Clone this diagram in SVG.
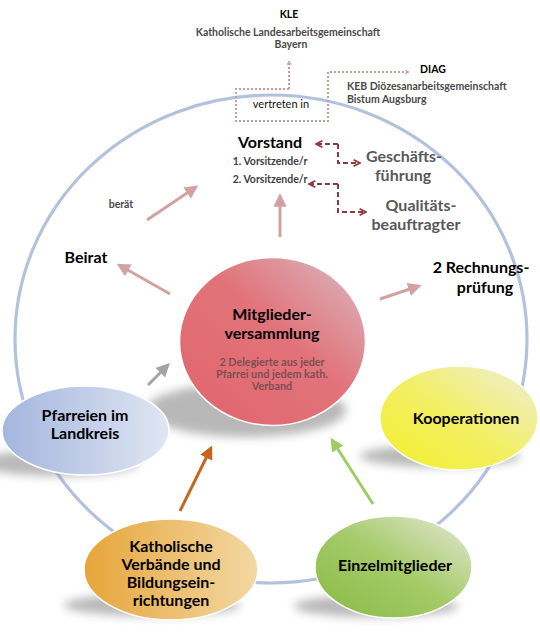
<svg xmlns="http://www.w3.org/2000/svg" width="540" height="632" viewBox="0 0 540 632">
<style>
text{font-family:Lato,"Liberation Sans",sans-serif;text-anchor:middle}
.b{font-weight:bold}
.lbl{font-weight:bold;font-size:16px;fill:#000}
.gr{font-weight:bold;font-size:16px;fill:#595959}
.sm{font-weight:bold;font-size:10.5px;fill:#4a4a4a}
.sub{font-weight:bold;font-size:10.8px;fill:#7e4e55}
.pink{stroke:#d2a2a2;stroke-width:3;fill:none}
.dot{stroke:#c99a9c;stroke-width:2;stroke-dasharray:2 2;fill:none}
.dash{stroke:#8e3a3c;stroke-width:2;stroke-dasharray:5 3;fill:none}
.shadow{fill:#8a8a8a;opacity:0.6;filter:url(#blur)}
</style>
<defs>
<filter id="blur" x="-30%" y="-100%" width="160%" height="300%"><feGaussianBlur stdDeviation="5"/></filter>
<linearGradient id="gRed" x1="0" y1="1" x2="1" y2="0"><stop offset="0" stop-color="#e0656b"/><stop offset="0.55" stop-color="#e2737a"/><stop offset="1" stop-color="#dabcc4"/></linearGradient>
<linearGradient id="gBlue" x1="0" y1="0.5" x2="1" y2="0.5"><stop offset="0" stop-color="#a3b6de"/><stop offset="1" stop-color="#e0e6f3"/></linearGradient>
<linearGradient id="gYel" x1="0" y1="1" x2="1" y2="0"><stop offset="0" stop-color="#f4ef2a"/><stop offset="0.5" stop-color="#f2ef66"/><stop offset="1" stop-color="#efeedc"/></linearGradient>
<linearGradient id="gOra" x1="0" y1="0.5" x2="1" y2="0.5"><stop offset="0" stop-color="#e6a53a"/><stop offset="1" stop-color="#f3d8a4"/></linearGradient>
<linearGradient id="gGrn" x1="0" y1="1" x2="1" y2="0"><stop offset="0" stop-color="#88bb44"/><stop offset="0.5" stop-color="#a4cb68"/><stop offset="1" stop-color="#e8e8da"/></linearGradient>
<marker id="aPink" viewBox="0 0 10 10" refX="8" refY="5" markerWidth="4.5" markerHeight="4.5" orient="auto"><path d="M0,0 L10,5 L0,10 z" fill="#d2a2a2"/></marker>
<marker id="aGray" viewBox="0 0 10 10" refX="8" refY="5" markerWidth="4.5" markerHeight="4.5" orient="auto"><path d="M0,0 L10,5 L0,10 z" fill="#a4a4a4"/></marker>
<marker id="aOra" viewBox="0 0 10 10" refX="8" refY="5" markerWidth="4.5" markerHeight="4.5" orient="auto"><path d="M0,0 L10,5 L0,10 z" fill="#c5661f"/></marker>
<marker id="aGrn" viewBox="0 0 10 10" refX="8" refY="5" markerWidth="4.5" markerHeight="4.5" orient="auto"><path d="M0,0 L10,5 L0,10 z" fill="#a0cc66"/></marker>
<marker id="aDot" viewBox="0 0 10 10" refX="9" refY="5" markerWidth="5" markerHeight="5" orient="auto" markerUnits="userSpaceOnUse"><path d="M1,1 L9,5 L1,9" fill="none" stroke="#c99a9c" stroke-width="2"/></marker>
<marker id="aDash" viewBox="0 0 10 10" refX="9" refY="5" markerWidth="8" markerHeight="8" orient="auto" markerUnits="userSpaceOnUse"><path d="M1,1 L9,5 L1,9" fill="none" stroke="#8e3a3c" stroke-width="2.2"/></marker>
</defs>
<rect width="540" height="632" fill="#fff"/>

<ellipse id="ring" cx="271" cy="339" rx="256" ry="244" fill="none" stroke="#b3c2dc" stroke-width="3.2"/>

<g id="shadows">
<ellipse class="shadow" cx="246" cy="410" rx="100" ry="27"/>
<ellipse class="shadow" cx="58" cy="463" rx="80" ry="13"/>
<ellipse class="shadow" cx="440" cy="456" rx="80" ry="11"/>
<ellipse class="shadow" cx="152" cy="605" rx="88" ry="11"/>
<ellipse class="shadow" cx="376" cy="606" rx="82" ry="11"/>
</g>

<g id="connectors">
<line class="pink" x1="280" y1="237" x2="280" y2="196" marker-end="url(#aPink)"/>
<line class="pink" x1="147" y1="220" x2="196" y2="187" marker-end="url(#aPink)"/>
<line class="pink" x1="170" y1="294" x2="119" y2="265" marker-end="url(#aPink)"/>
<line class="pink" x1="380" y1="299" x2="419" y2="286" marker-end="url(#aPink)"/>
<line x1="148" y1="385" x2="168" y2="365" stroke="#a4a4a4" stroke-width="3" marker-end="url(#aGray)"/>
<line x1="180" y1="511" x2="211" y2="448" stroke="#c5661f" stroke-width="3" marker-end="url(#aOra)"/>
<line x1="373" y1="504" x2="332" y2="440" stroke="#a0cc66" stroke-width="3" marker-end="url(#aGrn)"/>
<path class="dot" d="M289,89 L289,61" marker-end="url(#aDot)"/>
<path class="dot" d="M289,89 L236,89 L236,121 L328,121 L328,72 L409,72" marker-end="url(#aDot)"/>
<path class="dash" d="M338,144 L316,144" marker-end="url(#aDash)"/>
<path class="dash" d="M338,144 L338,163 L360,163" marker-end="url(#aDash)"/>
<path class="dash" d="M338,184 L309,184" marker-end="url(#aDash)"/>
<path class="dash" d="M338,184 L338,212 L366,212" marker-end="url(#aDash)"/>
</g>

<g id="mitglieder">
<ellipse cx="272.5" cy="341.5" rx="93" ry="84" fill="url(#gRed)" stroke="#fff" stroke-width="1.5"/>
<text class="lbl" x="272" y="320" font-size="17">Mitglieder-</text>
<text class="lbl" x="272" y="339" font-size="17">versammlung</text>
<text class="sub" x="272" y="366">2 Delegierte aus jeder</text>
<text class="sub" x="272" y="378">Pfarrei und jedem kath.</text>
<text class="sub" x="272" y="390">Verband</text>
</g>

<g id="pfarreien">
<ellipse cx="85.5" cy="430.5" rx="83.5" ry="44.5" fill="url(#gBlue)" stroke="#fff" stroke-width="1.5"/>
<text class="lbl" x="85" y="421">Pfarreien im</text>
<text class="lbl" x="85" y="439">Landkreis</text>
</g>

<g id="kooperationen">
<ellipse cx="459" cy="418" rx="79" ry="52" fill="url(#gYel)" stroke="#fff" stroke-width="1.5"/>
<text class="lbl" x="466" y="424">Kooperationen</text>
</g>

<g id="verbaende">
<ellipse cx="171" cy="569.5" rx="87" ry="50.5" fill="url(#gOra)" stroke="#fff" stroke-width="1.5"/>
<text class="lbl" x="171" y="552">Katholische</text>
<text class="lbl" x="171" y="570">Verbände und</text>
<text class="lbl" x="171" y="588">Bildungsein-</text>
<text class="lbl" x="171" y="606">richtungen</text>
</g>

<g id="einzel">
<ellipse cx="393.5" cy="567" rx="78.5" ry="51" fill="url(#gGrn)" stroke="#fff" stroke-width="1.5"/>
<text class="lbl" x="395" y="571">Einzelmitglieder</text>
</g>

<g id="vorstand">
<text class="lbl" x="270" y="148">Vorstand</text>
<text class="b" x="270" y="165" font-size="10.5" fill="#404040">1. Vorsitzende/r</text>
<text class="b" x="270" y="183" font-size="10.5" fill="#404040">2. Vorsitzende/r</text>
</g>

<g id="beirat">
<text class="lbl" x="86" y="263">Beirat</text>
</g>
<g id="beraet"><text class="sm" x="121" y="208">berät</text></g>

<g id="rechnung">
<text class="lbl" x="481" y="273" font-size="17">2 Rechnungs-</text>
<text class="lbl" x="485" y="293" font-size="17">prüfung</text>
</g>

<g id="geschaeft">
<text class="gr" x="404" y="162">Geschäfts-</text>
<text class="gr" x="403" y="181">führung</text>
</g>
<g id="qualitaet">
<text class="gr" x="421" y="211">Qualitäts-</text>
<text class="gr" x="416" y="230">beauftragter</text>
</g>

<g id="kle">
<text class="b" x="289" y="18" font-size="10.5" fill="#000">KLE</text>
<text class="sm" x="288" y="36">Katholische Landesarbeitsgemeinschaft</text>
<text class="sm" x="291" y="48">Bayern</text>
</g>

<g id="diag">
<text class="b" x="433" y="73" font-size="10.5" fill="#000">DIAG</text>
<text class="sm" x="347" y="90" style="text-anchor:start">KEB Diözesanarbeitsgemeinschaft</text>
<text class="sm" x="347" y="103" style="text-anchor:start">Bistum Augsburg</text>
</g>

<g id="vertreten"><text x="281" y="108" font-size="11" fill="#111">vertreten in</text></g>
</svg>
